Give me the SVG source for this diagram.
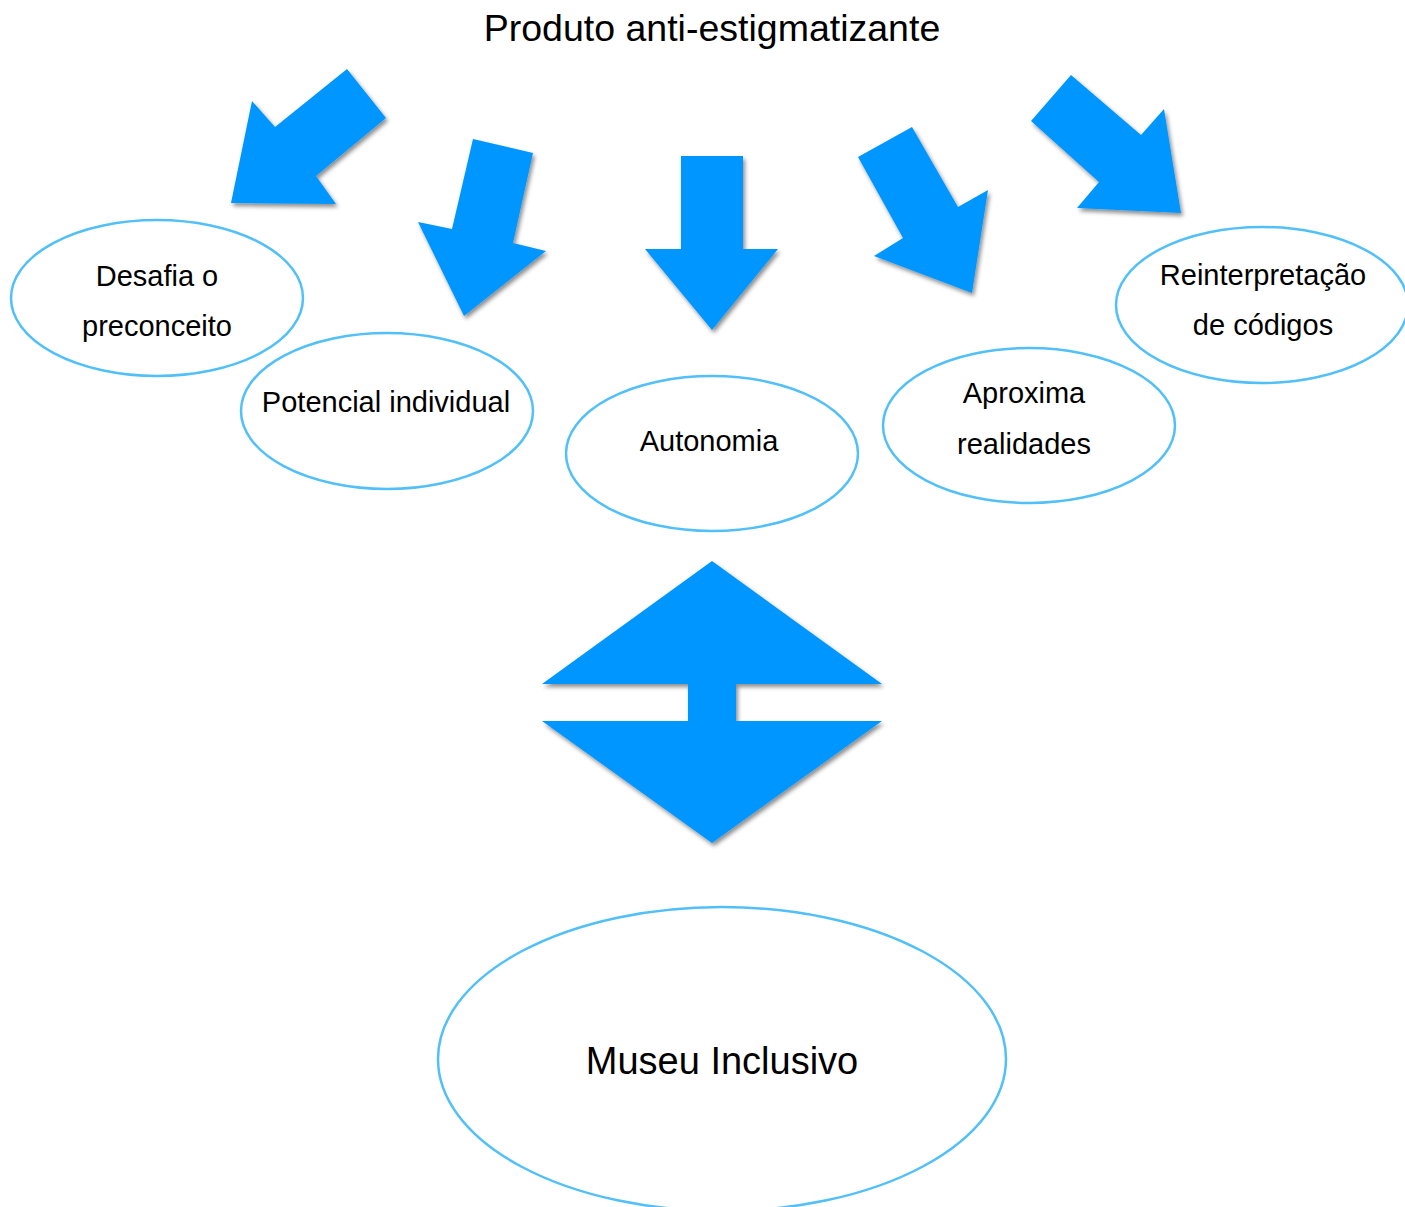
<svg xmlns="http://www.w3.org/2000/svg" width="1405" height="1207" viewBox="0 0 1405 1207">
<style>
.node ellipse{fill:#fff;stroke:#52c0f8;stroke-width:2.5}
.t{font-family:"Liberation Sans",Arial,sans-serif;fill:#000;text-anchor:middle}
.n{font-size:29px}
.arrow{fill:#0096ff;filter:url(#sh)}
</style>
<defs>
<filter id="sh" x="-20%" y="-20%" width="150%" height="150%">
<feDropShadow dx="2" dy="3" stdDeviation="2" flood-color="#000" flood-opacity="0.45"/>
</filter>
</defs>
<rect width="1405" height="1207" fill="#fff"/>
<text class="t" x="712" y="41" font-size="37.5">Produto anti-estigmatizante</text>
<g id="connectors">
<polygon class="arrow" points="231,203 252,101 275,127 347,69 386,118 316,176 336,204"/>
<polygon class="arrow" points="473,139 533,153 513,243 546,251 464,316 418,222 452,229"/>
<polygon class="arrow" points="681,156 743,156 743,249 778,249 712,330 645,249 681,249"/>
<polygon class="arrow" points="858,157 912,127 958,207 988,190 972,293 874,256 903,238"/>
<polygon class="arrow" points="1031,121 1071,75 1141,135 1164,109 1181,213 1077,208 1099,182"/>
<polygon class="arrow" points="712,561 882,684 736,684 736,721 882,721 712,843 542,721 688,721 688,684 542,684"/>
</g>
<g id="node-desafia" class="node">
<ellipse cx="157" cy="298" rx="146" ry="78"/>
<text class="t n" x="157" y="286">Desafia o</text>
<text class="t n" x="157" y="336">preconceito</text>
</g>
<g id="node-potencial" class="node">
<ellipse cx="387" cy="411" rx="146" ry="78"/>
<text class="t n" x="386" y="412">Potencial individual</text>
</g>
<g id="node-autonomia" class="node">
<ellipse cx="712" cy="453.5" rx="146" ry="77.5"/>
<text class="t n" x="709" y="451">Autonomia</text>
</g>
<g id="node-aproxima" class="node">
<ellipse cx="1029" cy="425.5" rx="146" ry="77.5"/>
<text class="t n" x="1024" y="403">Aproxima</text>
<text class="t n" x="1024" y="454">realidades</text>
</g>
<g id="node-reinterpretacao" class="node">
<ellipse cx="1262" cy="305" rx="146" ry="78"/>
<text class="t n" x="1263" y="285">Reinterpretação</text>
<text class="t n" x="1263" y="335">de códigos</text>
</g>
<g id="node-museu" class="node">
<ellipse cx="722" cy="1059" rx="284" ry="152"/>
<text class="t" x="722" y="1074" font-size="38">Museu Inclusivo</text>
</g>
</svg>
